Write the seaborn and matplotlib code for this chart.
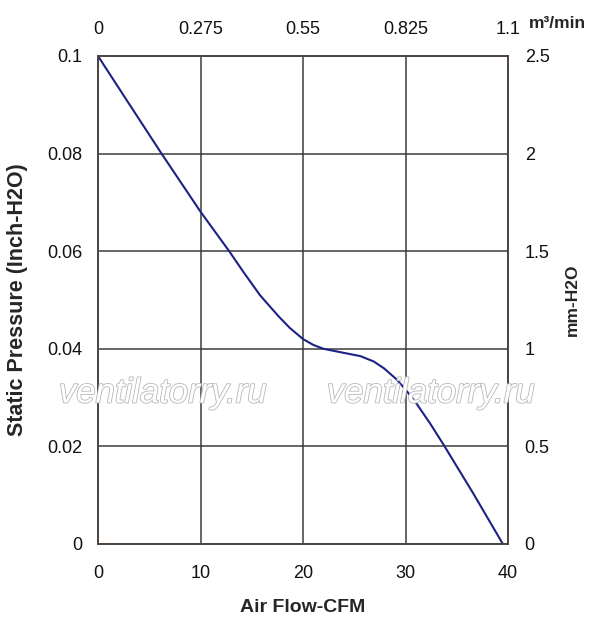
import matplotlib
matplotlib.use("Agg")
import matplotlib.pyplot as plt
import matplotlib.patheffects as pe
import seaborn as sns
import pandas as pd

# ---- data ----
cfm = [0, 3.0, 6.2, 10.0, 12.8, 14.2, 15.8, 16.8, 17.6, 18.7, 20.0, 21.0,
       22.0, 23.9, 25.6, 26.9, 27.9, 29.15, 30.1, 31.1, 32.4, 33.7, 36.6, 39.5]
pressure = [0.100, 0.0903, 0.080, 0.0681, 0.0600, 0.0557, 0.0510, 0.0486,
            0.0467, 0.0443, 0.0420, 0.0408, 0.0400, 0.0392, 0.0385, 0.0374,
            0.0360, 0.0337, 0.0314, 0.0287, 0.0247, 0.0204, 0.0104, 0.0]

bottom_ticks = [0, 10, 20, 30, 40]
bottom_labels = ["0", "10", "20", "30", "40"]
left_ticks = [0, 0.02, 0.04, 0.06, 0.08, 0.1]
left_labels = ["0", "0.02", "0.04", "0.06", "0.08", "0.1"]
top_ticks = [0, 0.275, 0.55, 0.825, 1.1]
top_labels = ["0", "0.275", "0.55", "0.825", "1.1"]
right_ticks = [0, 0.5, 1, 1.5, 2, 2.5]
right_labels = ["0", "0.5", "1", "1.5", "2", "2.5"]

df = pd.DataFrame({"cfm": cfm, "pressure": pressure})

sns.set_style("white")
plt.rcParams["font.family"] = ["Liberation Sans", "DejaVu Sans"]

fig = plt.figure(figsize=(5.97, 6.26), dpi=100)
ax = fig.add_axes([98 / 597, 1 - 544 / 626, 410 / 597, 488 / 626])

spine_c = "#4e4440"
grid_c = "#3c3c3c"

sns.lineplot(data=df, x="cfm", y="pressure", ax=ax, color="#1c2284",
             linewidth=1.5, zorder=5)

ax.set_xlim(0, 40)
ax.set_ylim(0, 0.1)
ax.set_xticks(bottom_ticks)
ax.set_xticklabels(bottom_labels)
ax.set_yticks(left_ticks)
ax.set_yticklabels(left_labels)
ax.grid(True, color=grid_c, linewidth=1.1)
ax.set_axisbelow(True)
for s in ax.spines.values():
    s.set_color(spine_c)
    s.set_linewidth(1.1)
ax.tick_params(axis="x", length=0, pad=15, labelsize=13, colors="#111111")
ax.tick_params(axis="y", length=0, pad=11, labelsize=13, colors="#111111")
ax.set_xlabel("Air Flow-CFM", fontsize=14, fontweight="bold", labelpad=12)
ax.set_ylabel("Static Pressure (Inch-H2O)", fontsize=15.5, fontweight="bold",
              labelpad=14)

axt = ax.twiny()
axt.set_xlim(0, 1.1)
axt.set_xticks(top_ticks)
axt.set_xticklabels(top_labels)
axt.tick_params(axis="x", length=0, pad=13, labelsize=13, colors="#111111")
axt.grid(False)

axr = ax.twinx()
axr.set_ylim(0, 2.5)
axr.set_yticks(right_ticks)
axr.set_yticklabels(right_labels)
axr.tick_params(axis="y", length=0, pad=12, labelsize=13, colors="#111111")
axr.grid(False)
axr.set_ylabel("mm-H2O", fontsize=12.5, fontweight="bold", labelpad=11)
for a in (axt, axr):
    for s in a.spines.values():
        s.set_color(spine_c)
        s.set_linewidth(1.1)

fig.text(529 / 597, 1 - 24 / 626, "m³/min", fontsize=12.5, fontweight="bold",
         ha="left", va="center")

for xc in (163 / 597, 431 / 597):
    fig.text(xc, 1 - 393 / 626, "ventilatorry.ru", fontsize=25, style="italic",
             color="white", ha="center", va="center", zorder=3,
             path_effects=[pe.Stroke(linewidth=1.2, foreground="#b8b8b8"),
                           pe.Normal()])

fig.savefig("out.png", dpi=100, facecolor="white")
